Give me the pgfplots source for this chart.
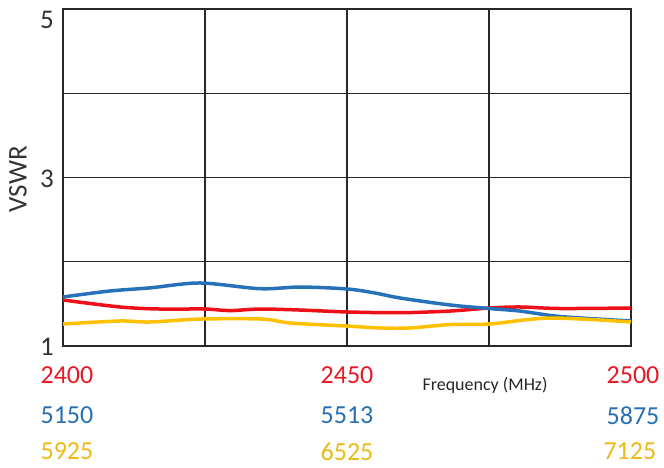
\documentclass[border=0pt]{standalone}
\usepackage{pgfplots}
\pgfplotsset{compat=1.18}
\usepackage{fontspec}
\setmainfont{Carlito}

\definecolor{redline}{RGB}{238,16,24}
\definecolor{blueline}{RGB}{38,113,184}
\definecolor{yellowline}{RGB}{255,192,0}
\definecolor{redtext}{RGB}{232,24,36}
\definecolor{bluetext}{RGB}{40,112,180}
\definecolor{yellowtext}{RGB}{236,186,24}
\definecolor{gridgray}{RGB}{40,40,40}

\begin{document}
\begin{tikzpicture}[every node/.style={inner sep=0pt}]
\useasboundingbox (-63pt,-121pt) rectangle (601pt,346pt);
\begin{axis}[
    at={(0,0)}, anchor=south west,
    width=568pt, height=337pt, scale only axis,
    xmin=0, xmax=100, ymin=1, ymax=5,
    xtick={0,25,50,75,100}, xticklabels={},
    ytick={1,2,3,4,5}, yticklabels={},
    major tick length=0pt,
    grid=major,
    major grid style={line width=1.2pt, draw=gridgray},
    axis line style={line width=1.2pt, draw=gridgray},
    clip=false,
]
% 2400-2500 band
\addplot[redline, line width=3.5pt, smooth] coordinates {
    (0,1.546) (10.04,1.463) (17.08,1.439) (25,1.439) (29.4,1.420) (34.68,1.439)
    (41.73,1.427) (50,1.404) (59.33,1.395) (68.13,1.415) (75,1.451) (80.46,1.463)
    (87.5,1.445) (100,1.451)
};
% 5150-5875 band
\addplot[blueline, line width=3.5pt, smooth] coordinates {
    (0,1.582) (8.27,1.653) (15.32,1.690) (24.12,1.748) (34.68,1.680) (41.73,1.700)
    (50,1.677) (54.93,1.629) (59.33,1.570) (68.13,1.487) (75,1.445) (80.46,1.415)
    (87.5,1.350) (100,1.297)
};
% 5925-7125 band
\addplot[yellowline, line width=3.5pt, smooth] coordinates {
    (0,1.261) (10.04,1.297) (15.32,1.285) (24.12,1.320) (35.04,1.320) (40,1.273)
    (50,1.237) (55.81,1.214) (61.09,1.214) (68.13,1.255) (75,1.261) (85.74,1.332)
    (100,1.285)
};

% y tick labels
\node[anchor=east, font=\fontsize{27}{30}\selectfont, text=black!80] at (axis cs:0,4.87) [xshift=-9pt] {5};
\node[anchor=east, font=\fontsize{27}{30}\selectfont, text=black!80] at (axis cs:0,2.99) [xshift=-9pt] {3};
\node[anchor=east, font=\fontsize{27}{30}\selectfont, text=black!80] at (axis cs:0,0.99) [xshift=-9pt] {1};

% y label
\node[rotate=90, font=\fontsize{27}{30}\selectfont, text=black!80] at (axis cs:-7.92,2.98) {VSWR};

% frequency rows
\node[font=\fontsize{26}{30}\selectfont, text=redtext] at (axis cs:0.7,0.656) {2400};
\node[font=\fontsize{26}{30}\selectfont, text=redtext] at (axis cs:50,0.656) {2450};
\node[font=\fontsize{26}{30}\selectfont, text=redtext] at (axis cs:100.35,0.656) {2500};
\node[font=\fontsize{26}{30}\selectfont, text=bluetext] at (axis cs:0.7,0.175) {5150};
\node[font=\fontsize{26}{30}\selectfont, text=bluetext] at (axis cs:50,0.175) {5513};
\node[font=\fontsize{26}{30}\selectfont, text=bluetext] at (axis cs:100.35,0.175) {5875};
\node[font=\fontsize{26}{30}\selectfont, text=yellowtext] at (axis cs:0.7,-0.25) {5925};
\node[font=\fontsize{26}{30}\selectfont, text=yellowtext] at (axis cs:50,-0.25) {6525};
\node[font=\fontsize{26}{30}\selectfont, text=yellowtext] at (axis cs:99.8,-0.25) {7125};

% x label
\node[font=\fontsize{18}{20}\selectfont, text=black!85] at (axis cs:74.3,0.537) {Frequency (MHz)};
\end{axis}
\end{tikzpicture}
\end{document}
